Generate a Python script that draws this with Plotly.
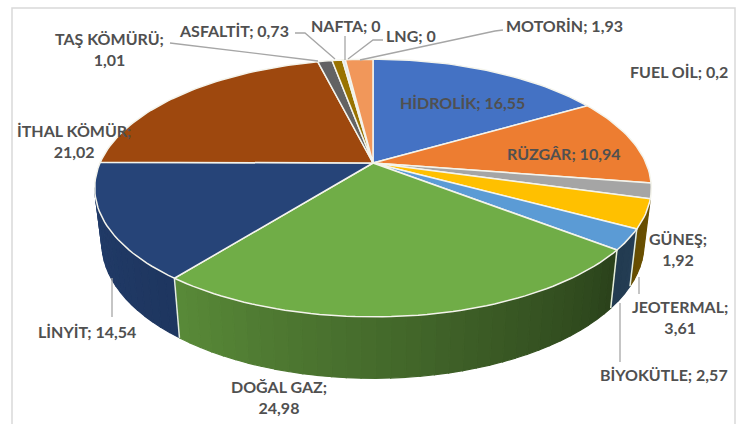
import math
import plotly.graph_objects as go

# ---- data (clockwise from 12 o'clock) ----
names = ["HİDROLİK", "RÜZGÂR", "GÜNEŞ", "JEOTERMAL", "BİYOKÜTLE", "DOĞAL GAZ", "LİNYİT",
         "İTHAL KÖMÜR", "TAŞ KÖMÜRÜ", "ASFALTİT", "FUEL OİL", "NAFTA", "LNG", "MOTORİN"]
values = [16.55, 10.94, 1.92, 3.61, 2.57, 24.98, 14.54, 21.02, 1.01, 0.73, 0.2, 0, 0, 1.93]
colors = ["#4472C4", "#ED7D31", "#A5A5A5", "#FFC000", "#5B9BD5", "#70AD47", "#264478",
          "#9E480E", "#636363", "#997300", "#DCE6F2", "#888888", "#888888", "#F1975A"]

label_text = ["<b>HİDROLİK; 16,55</b>", "<b>RÜZGÂR; 10,94</b>", "<b>GÜNEŞ;<br>1,92</b>",
              "<b>JEOTERMAL;<br>3,61</b>", "<b>BİYOKÜTLE; 2,57</b>", "<b>DOĞAL GAZ;<br>24,98</b>",
              "<b>LİNYİT; 14,54</b>", "<b>İTHAL KÖMÜR;<br>21,02</b>", "<b>TAŞ KÖMÜRÜ;<br>1,01</b>",
              "<b>ASFALTİT; 0,73</b>", "<b>FUEL OİL; 0,2</b>", "<b>NAFTA; 0</b>", "<b>LNG; 0</b>",
              "<b>MOTORİN; 1,93</b>"]
label_x = [462, 563, 678, 680, 664, 279, 87, 74, 109, 234, 679, 346, 411, 564]
label_y = [102, 153, 249, 317, 374, 397, 331, 141, 49, 30, 71, 25, 35, 25]

leaders = [[(170, 43), (318, 61)], [(295, 33), (305, 33), (335, 59)], [(345, 36), (345, 60)],
           [(383, 40), (373, 40), (348, 59)], [(503, 30), (495, 31), (360, 60)],
           [(639, 277), (639, 294)], [(620, 303), (620, 362)], [(112, 278), (112, 317)]]

# ---- projection of the tilted disc ----
CX, CY, A, B, K = 373, 163, 273, 124, 0.194
CYB, AB, BB = 217, 266, 130


def top(t):
    r = math.radians(t)
    w = 1 + K * math.cos(r)
    return CX + A * math.sin(r) / w, CY - B * math.cos(r) / w


def bottom(t):
    r = math.radians(t)
    w = 1 + K * math.cos(r)
    return CX + AB * math.sin(r) / w, CYB - BB * math.cos(r) / w


def shade(hex_col, t):
    stops = [(100, .44), (128, .38), (218, .80), (262, .88)]
    f = stops[-1][1]
    for (a, fa), (b, fb) in zip(stops, stops[1:]):
        if a <= t <= b:
            f = fa + (fb - fa) * (t - a) / (b - a)
            break
    rgb = [int(hex_col[i:i + 2], 16) for i in (1, 3, 5)]
    return "rgb(%d,%d,%d)" % tuple(int(c * f) for c in rgb)


def steps(a, b, n):
    return [a + (b - a) * i / n for i in range(n + 1)]


total = sum(values)
edges = [0]
for v in values:
    edges.append(edges[-1] + v / total * 360)

fig = go.Figure()
SIDE_LO, SIDE_HI = 105.9, 259

# side wall, as thin shaded strips
for name, col, a, b in zip(names, colors, edges, edges[1:]):
    lo, hi = max(a, SIDE_LO), min(b, SIDE_HI)
    if hi <= lo:
        continue
    n = max(1, int((hi - lo) / 2.5))
    ts = steps(lo, hi, n)
    for t0, t1 in zip(ts, ts[1:]):
        p = [top(t0), top(t1), bottom(t1), bottom(t0), top(t0)]
        c = shade(col, (t0 + t1) / 2)
        fig.add_trace(go.Scatter(x=[q[0] for q in p], y=[q[1] for q in p], mode="lines",
                                 fill="toself", fillcolor=c, line=dict(color=c, width=1.2),
                                 hoverinfo="skip", showlegend=False))

# separators on the wall
for e in edges:
    if SIDE_LO < e < SIDE_HI:
        p, q = top(e), bottom(e)
        fig.add_trace(go.Scatter(x=[p[0], q[0]], y=[p[1], q[1]], mode="lines",
                                 line=dict(color="#E6EEDD", width=1.5),
                                 hoverinfo="skip", showlegend=False))

# top faces
for name, col, a, b in zip(names, colors, edges, edges[1:]):
    if b <= a:
        continue
    arc = [top(t) for t in steps(a, b, max(2, int((b - a) / 1.5)))]
    p = [(CX, CY)] + arc + [(CX, CY)]
    fig.add_trace(go.Scatter(x=[q[0] for q in p], y=[q[1] for q in p], mode="lines",
                             fill="toself", fillcolor=col,
                             line=dict(color="#F4F4EC", width=1.5),
                             name=name, hoverinfo="skip", showlegend=False))

# leader lines
for seg in leaders:
    fig.add_trace(go.Scatter(x=[q[0] for q in seg], y=[q[1] for q in seg], mode="lines",
                             line=dict(color="#A6A6A6", width=1.3),
                             hoverinfo="skip", showlegend=False))

for txt, x, y in zip(label_text, label_x, label_y):
    fig.add_annotation(x=x, y=y, text=txt, showarrow=False, xanchor="center", yanchor="middle",
                       font=dict(family="Lato", size=16, color="#505050"))

fig.add_shape(type="rect", x0=12, y0=8, x1=735, y1=440,
              line=dict(color="#D9D9D9", width=1.5), layer="below")

fig.update_xaxes(visible=False, range=[0, 750], fixedrange=True)
fig.update_yaxes(visible=False, range=[424, 0], fixedrange=True)
fig.update_layout(width=750, height=424, margin=dict(l=0, r=0, t=0, b=0),
                  paper_bgcolor="white", plot_bgcolor="white", showlegend=False)
fig.write_html("out.html", config={"displayModeBar": False},
               post_script="document.body.style.margin='0';document.documentElement.style.overflow='hidden';")
